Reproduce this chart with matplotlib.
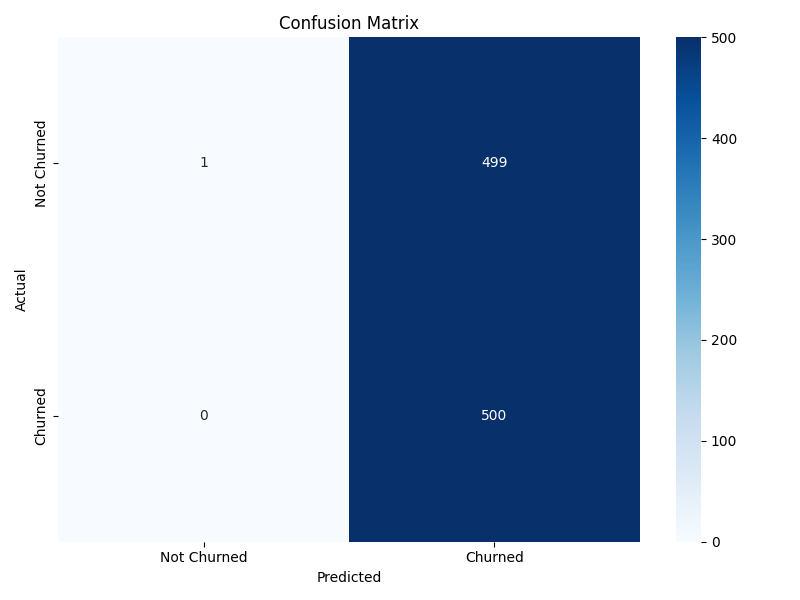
import numpy as np
import matplotlib
matplotlib.use("Agg")
import matplotlib.pyplot as plt
import seaborn as sns

labels = ["Not Churned", "Churned"]
counts = np.array([[1, 499],
                   [0, 500]])

plt.figure(figsize=(8, 6))
sns.heatmap(counts, annot=True, fmt="d", cmap="Blues",
            xticklabels=labels, yticklabels=labels)
plt.title("Confusion Matrix")
plt.xlabel("Predicted")
plt.ylabel("Actual")
plt.tight_layout()
plt.savefig("out.png", dpi=100)
plt.close()
